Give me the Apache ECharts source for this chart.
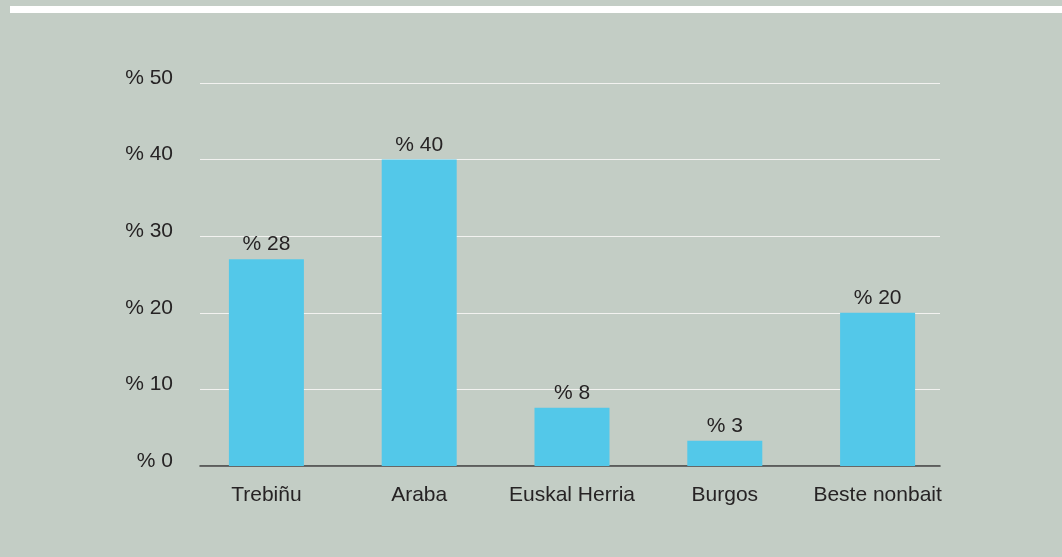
<!DOCTYPE html>
<html>
<head>
<meta charset="utf-8">
<script src="https://cdn.jsdelivr.net/npm/echarts@6/dist/echarts.min.js"></script>
<style>
html,body{margin:0;padding:0;background:#c3cdc5;}
#c{width:1062px;height:557px;}
</style>
</head>
<body>
<div id="c"></div>
<script>
const categories = ["Trebiñu", "Araba", "Euskal Herria", "Burgos", "Beste nonbait"];
const values = [27, 40, 7.6, 3.3, 20];
const valueLabels = ["% 28", "% 40", "% 8", "% 3", "% 20"];
const yTicks = [0, 10, 20, 30, 40, 50];

const font = "'Liberation Sans', Arial, Helvetica, sans-serif";
const textColor = "#262324";

const chart = echarts.init(document.getElementById('c'));
chart.setOption({
  backgroundColor: '#c3cdc5',
  animation: false,
  graphic: [{
    type: 'rect',
    shape: { x: 10, y: 6, width: 1052, height: 7 },
    style: { fill: '#ffffff' },
    silent: true
  }],
  grid: [
    { left: 190, width: 764, top: 83, bottom: 91 },
    { left: 200, width: 740, top: 83, bottom: 91 }
  ],
  xAxis: [
    {
      type: 'category', gridIndex: 0, data: categories,
      axisLine: { show: false }, axisTick: { show: false },
      axisLabel: { color: textColor, fontSize: 21, fontFamily: font, margin: 19, interval: 0 }
    },
    {
      type: 'category', gridIndex: 1, data: categories,
      axisLine: { show: true, lineStyle: { color: '#3a3a3a', width: 1.5 } },
      axisTick: { show: false }, axisLabel: { show: false }
    }
  ],
  yAxis: [
    { type: 'value', gridIndex: 0, min: yTicks[0], max: yTicks[yTicks.length - 1], show: false, splitLine: { show: false } },
    {
      type: 'value', gridIndex: 1, min: yTicks[0], max: yTicks[yTicks.length - 1], interval: 10,
      axisLine: { show: false }, axisTick: { show: false },
      axisLabel: { color: textColor, fontSize: 21, fontFamily: font, margin: 27,
        formatter: v => '% ' + v, verticalAlign: 'bottom', lineHeight: 10 },
      splitLine: { show: true, lineStyle: { color: '#f2f2f0', width: 1 } }
    }
  ],
  series: [{
    type: 'bar', xAxisIndex: 0, yAxisIndex: 0,
    data: values, barWidth: 75,
    itemStyle: { color: '#53c8e9' },
    label: {
      show: true, position: 'top', distance: 4,
      color: textColor, fontSize: 21, fontFamily: font,
      formatter: p => valueLabels[p.dataIndex]
    },
    z: 3
  }]
});
</script>
</body>
</html>
